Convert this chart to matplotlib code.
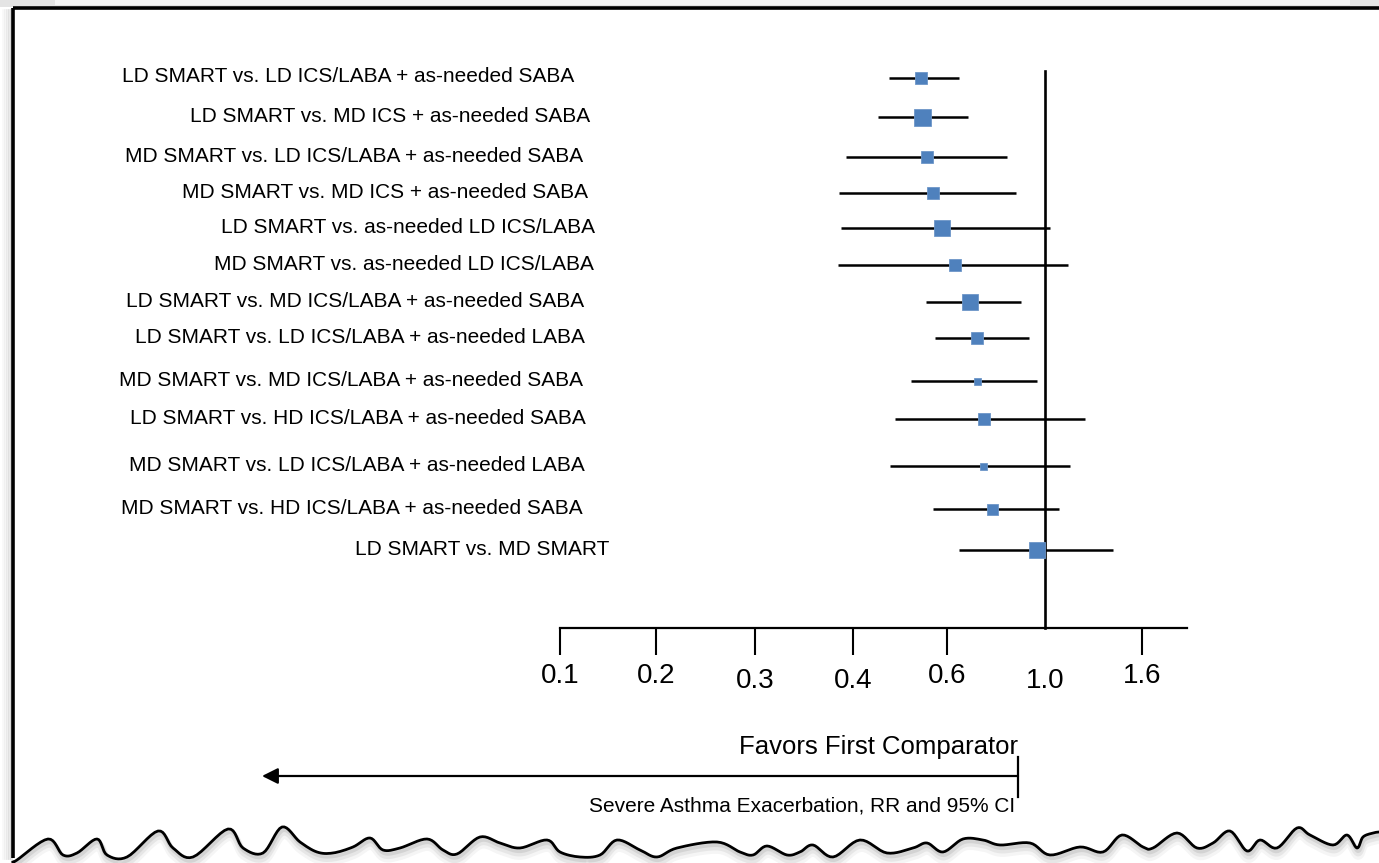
import numpy as np
import matplotlib
matplotlib.use("Agg")
import matplotlib.pyplot as plt
from matplotlib.transforms import ScaledTranslation

plt.rcParams['font.family'] = ['Liberation Sans', 'DejaVu Sans']

# ---------------- data ----------------
comparisons = [
    "LD SMART vs. LD ICS/LABA + as-needed SABA",
    "LD SMART vs. MD ICS + as-needed SABA",
    "MD SMART vs. LD ICS/LABA + as-needed SABA",
    "MD SMART vs. MD ICS + as-needed SABA",
    "LD SMART vs. as-needed LD ICS/LABA",
    "MD SMART vs. as-needed LD ICS/LABA",
    "LD SMART vs. MD ICS/LABA + as-needed SABA",
    "LD SMART vs. LD ICS/LABA + as-needed LABA",
    "MD SMART vs. MD ICS/LABA + as-needed SABA",
    "LD SMART vs. HD ICS/LABA + as-needed SABA",
    "MD SMART vs. LD ICS/LABA + as-needed LABA",
    "MD SMART vs. HD ICS/LABA + as-needed SABA",
    "LD SMART vs. MD SMART",
]
rr = [0.545, 0.547, 0.557, 0.570, 0.589, 0.633, 0.694, 0.722, 0.722, 0.751, 0.747, 0.784, 0.967]
ci_low = [0.477, 0.453, 0.393, 0.386, 0.388, 0.385, 0.555, 0.574, 0.523, 0.489, 0.479, 0.570, 0.649]
ci_high = [0.649, 0.686, 0.845, 0.882, 1.031, 1.142, 0.902, 0.935, 0.967, 1.247, 1.155, 1.087, 1.420]
tick_values = [0.1, 0.2, 0.3, 0.4, 0.6, 1.0, 1.6]
tick_labels = ["0.1", "0.2", "0.3", "0.4", "0.6", "1.0", "1.6"]
xlabel_top = "Favors First Comparator"
xlabel_bottom = "Severe Asthma Exacerbation, RR and 95% CI"

# ---------------- layout / style ----------------
W, H = 1379, 863
row_y = [78, 117, 157, 193, 228, 265, 302, 338, 381, 419, 466, 509, 550]
label_right = [574, 590, 583, 588, 595, 594, 584, 585, 583, 586, 585, 583, 609]
marker_px = [12, 17, 12, 12, 16, 12, 16, 12, 7, 12, 7, 11, 16]
tick_label_dy = [0, 0, -5, -5, 0, -5, 0]   # px, small vertical jitter of labels
scale_vals = [0.0, 0.1, 0.2, 0.3, 0.4, 0.6, 1.0, 1.6, 2.2]
scale_px = [464, 560, 656, 755, 853, 947, 1045, 1142, 1239]
blue = "#4F81BD"

def fwd(v):
    return np.interp(v, scale_vals, scale_px)

def inv(p):
    return np.interp(p, scale_px, scale_vals)

def catmull_rom(px, py, n=8):
    px = np.concatenate([[px[0]], px, [px[-1]]])
    py = np.concatenate([[py[0]], py, [py[-1]]])
    ox, oy = [], []
    t = np.linspace(0, 1, n, endpoint=False)
    for i in range(1, len(px) - 2):
        for arr, out in ((px, ox), (py, oy)):
            p0, p1, p2, p3 = arr[i - 1], arr[i], arr[i + 1], arr[i + 2]
            out.extend(0.5 * ((2 * p1) + (-p0 + p2) * t + (2 * p0 - 5 * p1 + 4 * p2 - p3) * t ** 2
                              + (-p0 + 3 * p1 - 3 * p2 + p3) * t ** 3))
    ox.append(px[-2]); oy.append(py[-2])
    return np.array(ox), np.array(oy)

fig = plt.figure(figsize=(W / 100, H / 100), dpi=100)

# background / decoration axes in pixel coordinates
bg = fig.add_axes([0, 0, 1, 1])
bg.set_xlim(0, W)
bg.set_ylim(H, 0)
bg.axis("off")

# top shadow strip
bg.add_patch(plt.Rectangle((0, 0), W, 7, color="#e4e4e4", lw=0, zorder=0))
bg.add_patch(plt.Rectangle((55, 0), 1295, 5, color="#f6f6f6", lw=0, zorder=0))
# left soft shadow
for i, a in enumerate([0.05, 0.08, 0.12, 0.16, 0.2]):
    bg.plot([3 + i * 2, 3 + i * 2], [10, 858], color="gray", alpha=a, lw=2, zorder=1)
# frame lines
bg.plot([13, W], [8.5, 8.5], color="black", lw=2.6, zorder=3, solid_capstyle="butt")
bg.plot([13, 13], [8, 858], color="black", lw=2.6, zorder=3, solid_capstyle="butt")

# torn bottom edge
wave = [(13, 862), (17, 860), (48, 839), (63, 855), (77, 853), (97, 839), (107, 855), (127, 857),
        (158, 831), (173, 848), (193, 857), (228, 829), (243, 848), (263, 853), (282, 827),
        (300, 842), (317, 852), (333, 853), (353, 847), (370, 838), (383, 850), (400, 848),
        (427, 839), (443, 850), (457, 854), (480, 837), (500, 843), (520, 848), (547, 840),
        (560, 852), (580, 857), (600, 855), (617, 840), (640, 850), (657, 857), (677, 848),
        (717, 842), (740, 852), (753, 855), (767, 846), (787, 855), (800, 852), (813, 845),
        (833, 857), (860, 840), (887, 853), (913, 848), (927, 843), (943, 852), (963, 839),
        (983, 840), (1000, 845), (1030, 843), (1050, 855), (1080, 847), (1103, 852),
        (1122, 835), (1143, 847), (1153, 848), (1177, 833), (1197, 848), (1213, 843),
        (1230, 831), (1247, 851), (1260, 840), (1277, 848), (1297, 828), (1310, 835),
        (1333, 845), (1347, 835), (1357, 848), (1363, 837), (1373, 833), (1379, 832)]
wx0 = np.array([p[0] for p in wave], dtype=float)
wy0 = np.array([p[1] for p in wave], dtype=float)
wx, wy = catmull_rom(wx0, wy0)
for off, a, lw in [(7, 0.08, 7), (5, 0.12, 5), (3, 0.18, 3)]:
    bg.plot(wx + 1, wy + off, color="gray", alpha=a, lw=lw, zorder=1, solid_joinstyle="round")
bg.fill_between(wx, wy, H + 5, color="white", alpha=0.0, zorder=2)
bg.plot(wx, wy, color="black", lw=2.0, zorder=4, solid_joinstyle="round")

# row labels
for name, y, xr in zip(comparisons, row_y, label_right):
    bg.text(xr, y - 1, name, ha="right", va="center", fontsize=15, color="black", zorder=5)

# bottom annotations
bg.text(1018, 747, xlabel_top, ha="right", va="center", fontsize=18.5, zorder=5)
bg.text(1015, 806, xlabel_bottom, ha="right", va="center", fontsize=15, zorder=5)
bg.annotate("", xy=(262, 776), xytext=(1018, 776),
            arrowprops=dict(arrowstyle="-|>", color="black", lw=1.6, mutation_scale=24,
                            shrinkA=0, shrinkB=0), zorder=5)
bg.plot([1018, 1018], [757, 797], color="black", lw=1.6, zorder=5)

# ---------------- forest plot axes ----------------
ax_left, ax_right = 560, 1187
ax_top, ax_bottom = 60, 628
ax = fig.add_axes([ax_left / W, (H - ax_bottom) / H, (ax_right - ax_left) / W, (ax_bottom - ax_top) / H])
ax.patch.set_alpha(0)
ax.set_xscale("function", functions=(fwd, inv))
ax.set_xlim(0.1, inv(ax_right))
ax.set_ylim(ax_bottom, ax_top)

for s in ["left", "right", "top"]:
    ax.spines[s].set_visible(False)
ax.spines["bottom"].set_linewidth(1.6)
ax.set_yticks([])

ax.set_xticks(tick_values)
ax.set_xticklabels(tick_labels)
ax.xaxis.set_minor_locator(matplotlib.ticker.NullLocator())
ax.tick_params(axis="x", direction="out", length=19.5, width=1.5, pad=6, labelsize=20)
ax.xaxis.get_major_ticks()[5].tick1line.set_visible(False)
for lbl, dy in zip(ax.get_xticklabels(), tick_label_dy):
    lbl.set_transform(lbl.get_transform() + ScaledTranslation(0, dy / 100, fig.dpi_scale_trans))

# reference line at RR = 1
ax.plot([1.0, 1.0], [71, ax_bottom], color="black", lw=1.9, zorder=2, clip_on=False)

# CIs and point estimates
ax.hlines(row_y, ci_low, ci_high, color="black", lw=1.8, zorder=3)
for x, y, s in zip(rr, row_y, marker_px):
    ax.plot([x], [y], marker="s", ms=s * 0.72, color=blue, mec="#6d96c8", mew=0.6, zorder=4)

fig.savefig("out.png", dpi=100)
